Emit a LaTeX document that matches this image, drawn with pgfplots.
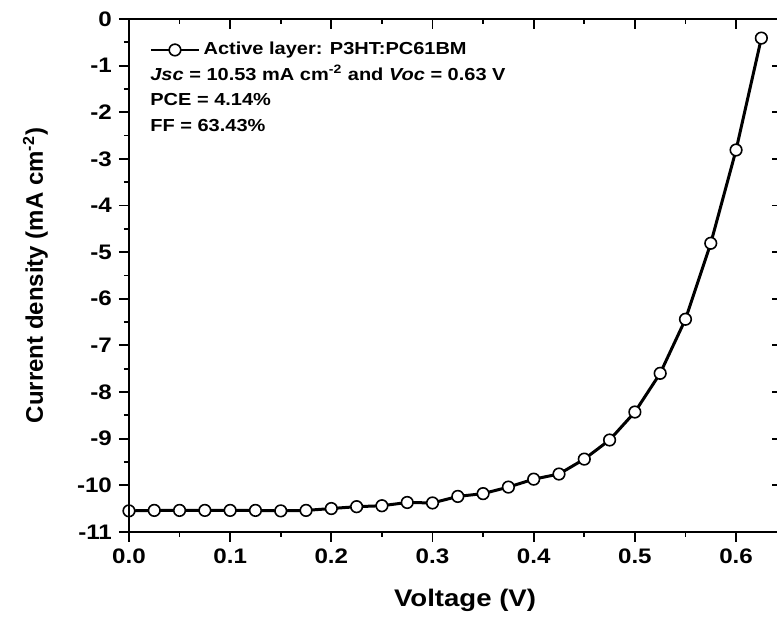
\documentclass[border=0pt]{standalone}
\usepackage{fontspec}
\setmainfont{Liberation Sans}[FakeStretch=1.15]
\newfontfamily\plainsans{Liberation Sans}
\usepackage{pgfplots}
\usepackage{pgfplotstable}
\pgfplotsset{compat=1.18}

% J-V curve, P3HT:PC61BM device
\pgfplotstableread{
V      J
0      -10.55
0.025  -10.54
0.05   -10.54
0.075  -10.54
0.1    -10.54
0.125  -10.54
0.15   -10.55
0.175  -10.54
0.2    -10.50
0.225  -10.46
0.25   -10.44
0.275  -10.37
0.3    -10.38
0.325  -10.24
0.35   -10.18
0.375  -10.04
0.4    -9.87
0.425  -9.76
0.45   -9.44
0.475  -9.03
0.5    -8.43
0.525  -7.60
0.55   -6.44
0.575  -4.81
0.6    -2.81
0.625  -0.41
}\jvdata

\begin{document}
\begin{tikzpicture}
\pgfplotsset{
  jvframe/.style={
    scale only axis, width=326.4pt, height=256.5pt,
    xmin=0, xmax=0.645, ymin=-11, ymax=0,
    xtick={0,0.1,0.2,0.3,0.4,0.5,0.6}, ytick={-11,-10,...,0},
    minor x tick num=1, minor y tick num=1,
    axis line style={line width=1pt},
    major tick length=5pt, minor tick length=2.5pt,
    every tick/.style={line width=0.9pt, black},
  },
}
\begin{axis}[jvframe, name=main,
  tick align=outside, xtick pos=bottom, ytick pos=left,
  xticklabel={\pgfmathprintnumber[fixed,fixed zerofill,precision=1,assume math mode=true]{\tick}},
  yticklabel={\pgfmathprintnumber[assume math mode=true]{\tick}},
  ticklabel style={font=\fontsize{10.5}{12}\selectfont\bfseries},
  xlabel={Voltage (V)},
  xlabel style={at={(axis description cs:0.515,0)}, anchor=base, yshift=-37.5pt,
    font=\fontsize{12}{14}\selectfont\bfseries},
  ylabel={Current density (mA cm\textsuperscript{-2})},
  ylabel style={at={(axis description cs:-0.1134,0.5)}, anchor=south,
    font=\plainsans\fontsize{12}{14}\selectfont\bfseries},
  legend style={at={(axis description cs:0.0322,0.9396)}, anchor=west,
    draw=none, fill=none, inner xsep=0pt,
    font=\fontsize{8.7}{10}\selectfont\bfseries},
  legend cell align=left,
  legend image code/.code={
    \draw[#1, line width=0.6pt, mark repeat=2, mark phase=2]
      plot coordinates {(0pt,0pt) (12pt,0pt) (24pt,0pt)};},
]
\addplot[black, line width=1.5pt, mark=*, mark size=2.9pt,
  mark options={fill=white, draw=black, line width=0.8pt, solid}]
  table[x=V, y=J] {\jvdata};
\addlegendentry{Active layer: P3HT:PC61BM}

\node[anchor=base west, inner sep=0pt, font=\fontsize{8.7}{10}\selectfont\bfseries]
  at (axis description cs:0.0322,0.8791)
  {\textit{Jsc} = 10.53 mA cm\textsuperscript{-2} and \textit{Voc} = 0.63 V};
\node[anchor=base west, inner sep=0pt, font=\fontsize{8.7}{10}\selectfont\bfseries]
  at (axis description cs:0.0322,0.8304) {PCE = 4.14\%};
\node[anchor=base west, inner sep=0pt, font=\fontsize{8.7}{10}\selectfont\bfseries]
  at (axis description cs:0.0322,0.7797) {FF = 63.43\%};
\end{axis}

% top and right: ticks pointing inwards, no labels
\begin{axis}[jvframe,
  tick align=inside, xtick pos=top, ytick pos=right,
  xticklabels={}, yticklabels={},
]
\end{axis}

\pgfresetboundingbox
\path[use as bounding box] (-64.5pt,-43.5pt) rectangle (324.1pt,266pt);
\end{tikzpicture}
\end{document}
